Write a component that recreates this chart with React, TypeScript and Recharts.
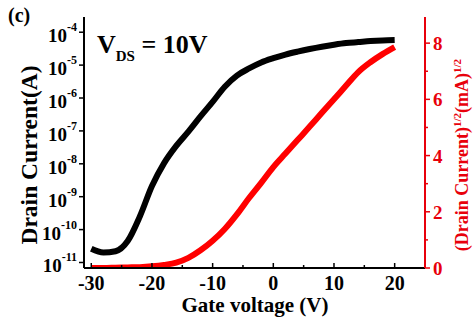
import { LineChart, Line, XAxis, YAxis } from 'recharts';

// gate sweep (V)
const gateVoltage = [-30, -28, -26, -24, -22, -20, -18, -16, -14, -12, -10, -8, -6, -4, -2, 0, 2, 4, 6, 8, 10, 12, 14, 16, 18, 20];

// drain current, A (log axis)
const drainCurrent = [
    2.6e-11, 2.0e-11, 2.2e-11, 4.5e-11, 2.5e-10, 2.1e-9, 1.05e-8, 3.5e-8, 9.5e-8, 2.75e-7,
    7.6e-7, 2.2e-6, 4.8e-6, 7.9e-6, 1.2e-5, 1.62e-5, 2.09e-5, 2.57e-5, 3.09e-5, 3.63e-5,
    4.17e-5, 4.68e-5, 5.01e-5, 5.37e-5, 5.62e-5, 5.75e-5,
];

// sqrt of drain current, (mA)^1/2
const sqrtDrainCurrent = [
    0, 0, 0.01, 0.02, 0.03, 0.06, 0.11, 0.19, 0.36, 0.63,
    0.97, 1.39, 1.91, 2.49, 3.03, 3.59, 4.07, 4.55, 5.03, 5.52,
    6.0, 6.49, 6.97, 7.32, 7.61, 7.86,
];

const xTicks = [-30, -25, -20, -15, -10, -5, 0, 5, 10, 15, 20];
const logTicks = [1e-11, 1e-10, 1e-9, 1e-8, 1e-7, 1e-6, 1e-5, 1e-4];
const sqrtTicks = [0, 1, 2, 3, 4, 5, 6, 7, 8];

const RED = '#e8000b';
const FONT = '"Liberation Serif", "Times New Roman", serif';

const data = gateVoltage.map((vg, i) => ({
    vg,
    current: drainCurrent[i],
    sqrtCurrent: sqrtDrainCurrent[i],
}));

function XTick({ x, y, payload }: any) {
    const major = payload.value % 10 === 0;
    return (
        <g>
            <line x1={x} y1={y} x2={x} y2={y - (major ? 5 : 3)} stroke="#000" strokeWidth={1.5} />
            {major && (
                <text x={x} y={y + 22} textAnchor="middle" fontSize={20} fontWeight="bold" fontFamily={FONT} fill="#000">
                    {payload.value}
                </text>
            )}
        </g>
    );
}

function LogTick({ x, y, payload }: any) {
    const exp = Math.round(Math.log10(payload.value));
    return (
        <g>
            <line x1={x} y1={y} x2={x - 5} y2={y} stroke="#000" strokeWidth={1.5} />
            <text x={x - 7} y={y + 10} textAnchor="end" fontWeight="bold" fontFamily={FONT} fill="#000">
                <tspan fontSize={19}>10</tspan>
                <tspan fontSize={12} dy={-11}>{exp}</tspan>
            </text>
        </g>
    );
}

function SqrtTick({ x, y, payload }: any) {
    const major = payload.value % 2 === 0;
    return (
        <g>
            <line x1={x} y1={y} x2={x + (major ? 5 : 3)} y2={y} stroke={RED} strokeWidth={1.5} />
            {major && (
                <text x={x + 8} y={y + 7} textAnchor="start" fontSize={19} fontWeight="bold" fontFamily={FONT} fill={RED}>
                    {payload.value}
                </text>
            )}
        </g>
    );
}

export default function App() {
    return (
        <div style={{ position: 'relative', width: 474, height: 321, background: '#fff' }}>
            <style>{'body{margin:0}'}</style>
            <LineChart width={474} height={321} data={data} margin={{ top: 17, right: 0, bottom: 0, left: 0 }}>
                <XAxis
                    dataKey="vg"
                    type="number"
                    domain={[-31.2, 25]}
                    ticks={xTicks}
                    allowDataOverflow
                    height={53}
                    tickSize={0}
                    tickMargin={0}
                    tickLine={false}
                    tick={<XTick />}
                    axisLine={{ stroke: '#000', strokeWidth: 2 }}
                />
                <XAxis
                    xAxisId="top"
                    orientation="top"
                    dataKey="vg"
                    type="number"
                    domain={[-31.2, 25]}
                    allowDataOverflow
                    height={0}
                    tick={false}
                    tickLine={false}
                    axisLine={{ stroke: '#000', strokeWidth: 1.5 }}
                />
                <YAxis
                    yAxisId="left"
                    scale="log"
                    domain={[6.8e-12, 2.9e-4]}
                    ticks={logTicks}
                    allowDataOverflow
                    width={84}
                    tickSize={0}
                    tickMargin={0}
                    tickLine={false}
                    tick={<LogTick />}
                    axisLine={{ stroke: '#000', strokeWidth: 2 }}
                />
                <YAxis
                    yAxisId="right"
                    orientation="right"
                    domain={[0, 8.93]}
                    ticks={sqrtTicks}
                    allowDataOverflow
                    width={49}
                    tickSize={0}
                    tickMargin={0}
                    tickLine={false}
                    tick={<SqrtTick />}
                    axisLine={{ stroke: RED, strokeWidth: 2 }}
                />
                <Line
                    yAxisId="left"
                    dataKey="current"
                    type="monotone"
                    stroke="#000"
                    strokeWidth={6}
                    dot={false}
                    isAnimationActive={false}
                />
                <Line
                    yAxisId="right"
                    dataKey="sqrtCurrent"
                    type="monotone"
                    stroke="#ff0000"
                    strokeWidth={6}
                    dot={false}
                    isAnimationActive={false}
                />
            </LineChart>
            <svg width={474} height={321} style={{ position: 'absolute', left: 0, top: 0, pointerEvents: 'none' }}>
                <text x={8} y={22} fontSize={20} fontWeight="bold" fontFamily={FONT} fill="#000">(c)</text>
                <text x={97} y={53} fontSize={26} fontWeight="bold" fontFamily={FONT} fill="#000">
                    V<tspan fontSize={15} dy={8}>DS</tspan>
                    <tspan dy={-8}> = 10V</tspan>
                </text>
                <text x={255} y={312} textAnchor="middle" fontSize={21} fontWeight="bold" fontFamily={FONT} fill="#000">
                    Gate voltage (V)
                </text>
                <text transform="translate(37,155) rotate(-90)" textAnchor="middle" fontSize={23.5} fontWeight="bold" fontFamily={FONT} fill="#000">
                    Drain Current(A)
                </text>
                <text transform="translate(468,155) rotate(-90)" textAnchor="middle" fontSize={18} fontWeight="bold" fontFamily={FONT} fill={RED}>
                    (Drain Current)<tspan fontSize={11} dy={-7}>1/2</tspan>
                    <tspan dy={7}>(mA)</tspan>
                    <tspan fontSize={11} dy={-7}>1/2</tspan>
                </text>
            </svg>
        </div>
    );
}
